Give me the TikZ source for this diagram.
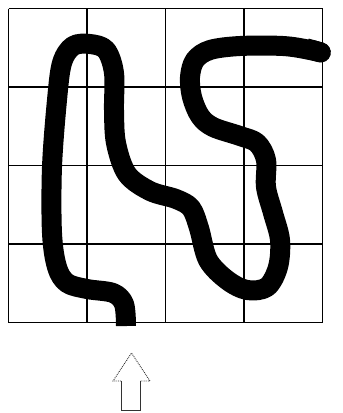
\documentclass[tikz,border=0pt]{standalone}
\usepackage{tikz}
\usetikzlibrary{arrows.meta}
\tikzset{
  gridline/.style={black,line width=1.1pt},
  trail/.style={black,line width=20pt,line join=round,-{Round Cap[]}},
  hollowarrow/.style={black!80,line width=0.9pt}
}

\begin{document}
\begin{tikzpicture}[x=1pt,y=-1pt]
			\useasboundingbox (0,0) rectangle (343,413);
			% 4x4 grid
			\foreach \i in {0,...,4}{
				\draw[gridline] (8.5+78.5*\i,8.5) -- (8.5+78.5*\i,322.5);
				\draw[gridline] (8.5,8.5+78.5*\i) -- (322.5,8.5+78.5*\i);
			}
			% thick path
			\draw[trail] plot[smooth,tension=0.55] coordinates {
				(126,326) (124,304) (113,293) (87,289) (67,283) (57,267)
				(52,233) (52,167) (57,100) (62,63) (73,46) (90,44)
				(106,50) (114,73) (114,110) (116,143) (127,174) (150,191)
				(176,199) (191,208) (199,228) (208,260) (227,280) (247,290)
				(267,287) (278,267) (280,240) (273,213) (266,187) (266,160)
				(257,143) (240,136) (213,127) (200,116) (192,97) (190,77)
				(195,60) (210,50) (240,46) (283,46) (310,50) (330,55)};
			% hollow arrow below the grid
			\coordinate (tip) at (131.5,353);
			\draw[hollowarrow,densely dotted] (121,381) -- (113,381) -- (tip) -- (150,381) -- (140,381);
			\draw[hollowarrow] (121,381) -- (121,410.5) -- (140,410.5) -- (140,381);
		\end{tikzpicture}
\end{document}
